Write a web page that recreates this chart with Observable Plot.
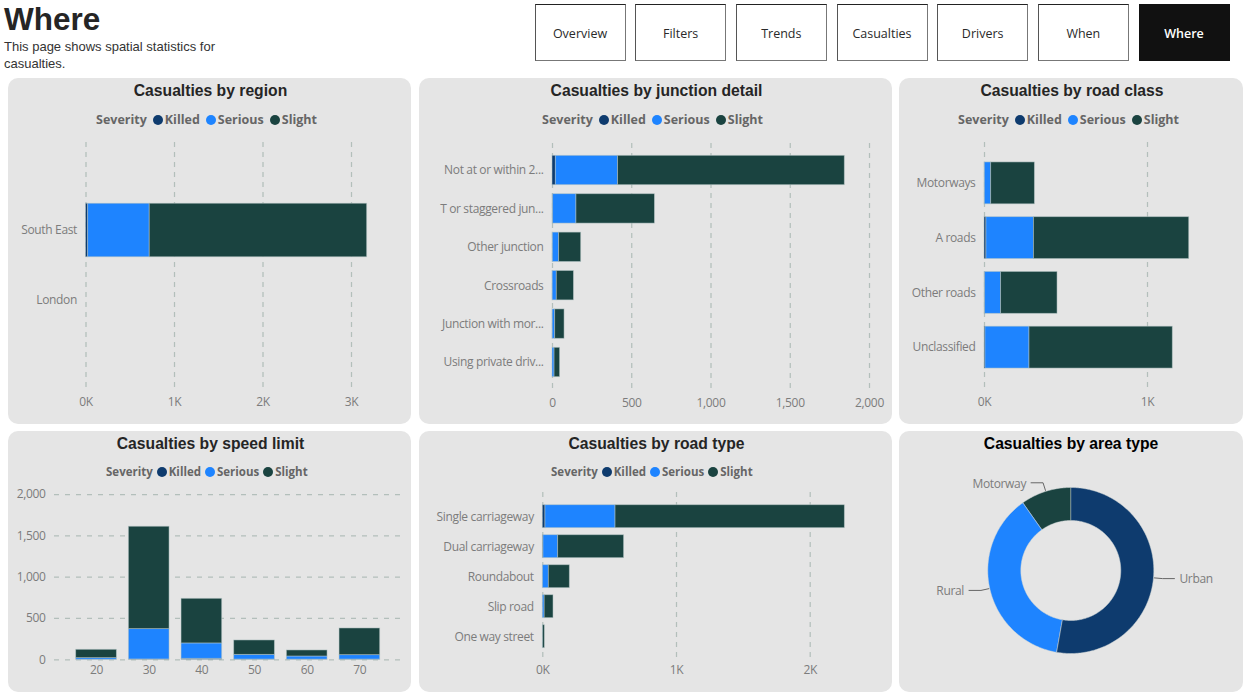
<!DOCTYPE html>
<html lang="en">
<head>
<meta charset="utf-8">
<title>Where</title>
<script src="https://cdn.jsdelivr.net/npm/d3@7"></script>
<script src="https://cdn.jsdelivr.net/npm/@observablehq/plot@0.6"></script>
<style>
  html, body { margin: 0; padding: 0; background: #fff; overflow: hidden; }
  #page { position: relative; width: 1243px; height: 695px; overflow: hidden; }
  h1 { position: absolute; left: 4px; top: 0; margin: 0; font: bold 31.5px/38px "Liberation Sans", Arial, sans-serif; color: #252525; }
  #sub { position: absolute; left: 4px; top: 38px; width: 240px; font: 13px/17px "Liberation Sans", Arial, sans-serif; color: #333; }
  .btn { position: absolute; top: 4px; width: 89px; height: 55px; text-align: center;
         border: 1px solid #777; border-top-color: #222; border-left-color: #555; background: #fff;
         font: 12.5px/57px "Open Sans", sans-serif; color: #2a2a2a; }
  .btn.active { background: #111; color: #fff; border-color: #111; font-weight: 600; }
  .panel { position: absolute; background: #e5e5e5; border-radius: 10px; overflow: hidden; }
  .panel svg { position: absolute; left: 0; top: 0; background: transparent; }
  .title { position: absolute; left: 2px; right: 0; text-align: center; font: bold 15.7px/20px "Liberation Sans", Arial, sans-serif; color: #252525; z-index: 2; }
  .legend { position: absolute; display: flex; align-items: center; font-family: "Open Sans", sans-serif; font-weight: 700; color: #666; white-space: nowrap; z-index: 2; }
  .legend .dot { display: inline-block; border-radius: 50%; }
</style>
</head>
<body>
<div id="page">
  <h1>Where</h1>
  <div id="sub">This page shows spatial statistics for<br>casualties.</div>
</div>
<script>
const navLabels = ["Overview", "Filters", "Trends", "Casualties", "Drivers", "When", "Where"];
const severities = ["Killed", "Serious", "Slight"];
const severityColors = ["#0e3b6e", "#1e84ff", "#1a4340"];

const regionCats = ["South East", "London"];
const regionKilled = [25, 0];
const regionSerious = [695, 0];
const regionSlight = [2457, 0];

const junctionCats = ["Not at or within 2...", "T or staggered jun...", "Other junction", "Crossroads", "Junction with mor...", "Using private driv..."];
const junctionKilled = [21, 4, 2, 1, 1, 0];
const junctionSerious = [393, 147, 40, 26, 16, 13];
const junctionSlight = [1430, 495, 139, 108, 59, 35];

const classCats = ["Motorways", "A roads", "Other roads", "Unclassified"];
const classKilled = [2, 12, 4, 6];
const classSerious = [39, 291, 98, 270];
const classSlight = [268, 953, 346, 879];

const speedCats = ["20", "30", "40", "50", "60", "70"];
const speedKilled = [1, 4, 12, 3, 2, 3];
const speedSerious = [19, 367, 186, 57, 38, 53];
const speedSlight = [101, 1239, 540, 174, 73, 323];

const roadCats = ["Single carriageway", "Dual carriageway", "Roundabout", "Slip road", "One way street"];
const roadKilled = [20, 5, 1, 0, 0];
const roadSerious = [524, 110, 44, 14, 2];
const roadSlight = [1715, 493, 157, 66, 13];

const areaNames = ["Urban", "Rural", "Motorway"];
const areaValues = [1673, 1186, 309];
const areaColors = ["#0e3b6e", "#1e84ff", "#1a4340"];

const page = document.getElementById("page");
navLabels.forEach((label, i) => {
  const b = document.createElement("div");
  b.className = "btn" + (label === "Where" ? " active" : "");
  b.style.left = (534.5 + i * 100.67) + "px";
  b.textContent = label;
  page.appendChild(b);
});

const FONT = '"Open Sans", sans-serif';
const TICK = 12;
const colorScale = {domain: severities, range: severityColors};
const planeStyle = {fontFamily: FONT, fontSize: TICK + "px", letterSpacing: "-0.35px", color: "#7c7c7c", background: "transparent", overflow: "visible"};
const gridColor = "#b3bfbb";
const barStyle = {stroke: "#b5c4c4", strokeWidth: 0.8, strokeOpacity: 0.65};

function toRows(cats, killed, serious, slight) {
  const out = [];
  cats.forEach((c, i) => {
    [killed, serious, slight].forEach((arr, j) => {
      if (arr[i] > 0) out.push({cat: c, severity: severities[j], value: arr[i]});
    });
  });
  return out;
}

function makePanel(box, title, titleTop, legend) {
  const p = document.createElement("div");
  p.className = "panel";
  Object.assign(p.style, {left: box.x + "px", top: box.y + "px", width: box.w + "px", height: box.h + "px"});
  const t = document.createElement("div");
  t.className = "title";
  t.style.top = titleTop + "px";
  t.textContent = title;
  if (box.titleColor) { t.style.color = box.titleColor; t.style.left = "0"; }
  p.appendChild(t);
  if (legend) {
    const l = document.createElement("div");
    l.className = "legend";
    l.style.left = legend.x + "px";
    l.style.top = legend.y + "px";
    l.style.fontSize = legend.size + "px";
    const s = document.createElement("span");
    s.textContent = "Severity";
    s.style.marginRight = legend.lead + "px";
    l.appendChild(s);
    severities.forEach((name, i) => {
      const d = document.createElement("span");
      d.className = "dot";
      d.style.width = d.style.height = legend.dot + "px";
      d.style.margin = "0 2px 0 " + legend.gap + "px";
      d.style.background = severityColors[i];
      l.appendChild(d);
      const n = document.createElement("span");
      n.textContent = name;
      l.appendChild(n);
    });
    p.appendChild(l);
  }
  page.appendChild(p);
  return p;
}

function hBars(box, title, legend, cfg) {
  const p = makePanel(box, title, 3, legend);
  const rows = toRows(cfg.cats, cfg.killed, cfg.serious, cfg.slight);
  p.appendChild(Plot.plot({
    width: box.w, height: box.h,
    marginLeft: cfg.x0, marginRight: box.w - cfg.x1 - 1,
    marginTop: cfg.gridTop, marginBottom: box.h - cfg.gridBottom,
    style: planeStyle,
    x: {domain: cfg.xDomain, range: [cfg.x0, cfg.x1]},
    y: {domain: cfg.cats, range: cfg.yRange, paddingInner: 0.235, paddingOuter: 0.1175, align: 0.5, round: false},
    color: colorScale,
    marks: [
      Plot.ruleX(cfg.xTicks, {stroke: gridColor, strokeWidth: 1.25, strokeDasharray: "5 5"}),
      Plot.barX(rows, {x: "value", y: "cat", fill: "severity", ...barStyle}),
      Plot.axisX({anchor: "bottom", ticks: cfg.xTicks, tickSize: 0, tickPadding: 5, tickFormat: cfg.fmt, label: null, fontSize: TICK}),
      Plot.axisY({anchor: "left", tickSize: 0, tickPadding: 9, label: null, fontSize: TICK})
    ]
  }));
}

const kFormat = d => (d / 1000) + "K";
const topLegend = {y: 33, size: 12.5, dot: 10, lead: 0, gap: 6};
const lowLegend = {y: 33, size: 11.5, dot: 10, lead: 0, gap: 4};

hBars({x: 8, y: 78, w: 403, h: 346}, "Casualties by region", {...topLegend, x: 88}, {
  cats: regionCats, killed: regionKilled, serious: regionSerious, slight: regionSlight,
  x0: 77.5, x1: 343, xDomain: [0, 3000], xTicks: [0, 1000, 2000, 3000], fmt: kFormat,
  gridTop: 64, gridBottom: 314, yRange: [117, 257]
});

hBars({x: 419, y: 78, w: 473, h: 346}, "Casualties by junction detail", {...topLegend, x: 123}, {
  cats: junctionCats, killed: junctionKilled, serious: junctionSerious, slight: junctionSlight,
  x0: 133, x1: 450, xDomain: [0, 2000], xTicks: [0, 500, 1000, 1500, 2000], fmt: d3.format(","),
  gridTop: 65, gridBottom: 315, yRange: [72.8, 303.2]
});

hBars({x: 899, y: 78, w: 344, h: 346}, "Casualties by road class", {...topLegend, x: 59}, {
  cats: classCats, killed: classKilled, serious: classSerious, slight: classSlight,
  x0: 85, x1: 248, xDomain: [0, 1000], xTicks: [0, 1000], fmt: kFormat,
  gridTop: 64, gridBottom: 314, yRange: [77.5, 296.5]
});

// Speed limit: vertical stacked bars
(function () {
  const box = {x: 8, y: 431, w: 403, h: 261};
  const p = makePanel(box, "Casualties by speed limit", 3, {...lowLegend, x: 98});
  const rows = toRows(speedCats, speedKilled, speedSerious, speedSlight);
  p.appendChild(Plot.plot({
    width: box.w, height: box.h,
    marginLeft: 46, marginRight: 9.3, marginTop: 63, marginBottom: 32.7,
    style: planeStyle,
    x: {domain: speedCats, range: [61.7, 377.7], paddingInner: 0.228, paddingOuter: 0.114, align: 0.5, round: false},
    y: {domain: [0, 2000], range: [228.3, 63]},
    color: colorScale,
    marks: [
      Plot.ruleY([0, 500, 1000, 1500, 2000], {stroke: gridColor, strokeWidth: 1.25, strokeDasharray: "5 6"}),
      Plot.barY(rows, {x: "cat", y: "value", fill: "severity", ...barStyle}),
      Plot.axisX({anchor: "bottom", tickSize: 0, tickPadding: 6, label: null, fontSize: TICK}),
      Plot.axisY({anchor: "left", ticks: [0, 500, 1000, 1500, 2000], tickSize: 0, tickPadding: 9, tickFormat: d3.format(","), label: null, fontSize: TICK})
    ]
  }));
})();

hBars({x: 419, y: 431, w: 473, h: 261}, "Casualties by road type", {...lowLegend, x: 132}, {
  cats: roadCats, killed: roadKilled, serious: roadSerious, slight: roadSlight,
  x0: 123.3, x1: 390.7, xDomain: [0, 2000], xTicks: [0, 1000, 2000], fmt: kFormat,
  gridTop: 61, gridBottom: 229, yRange: [70.2, 220.2]
});

// Area type donut, slices built with d3.pie from areaValues
(function () {
  const box = {x: 899, y: 431, w: 344, h: 261, titleColor: "#000"};
  const p = makePanel(box, "Casualties by area type", 3, null);
  const outer = 83, inner = 50, elbow = 92, run = 12;
  const cx = 171.3, cy = 139;
  const arcs = d3.pie().sort(null)(areaValues);
  const polar = (r, a) => [r * Math.sin(a), -r * Math.cos(a)];
  const ring = [];
  arcs.forEach((arc, i) => {
    const n = Math.ceil((arc.endAngle - arc.startAngle) / (Math.PI / 180));
    const at = k => arc.startAngle + (arc.endAngle - arc.startAngle) * k / n;
    for (let k = 0; k <= n; k++) { const [x, y] = polar(outer, at(k)); ring.push({name: areaNames[i], x, y}); }
    for (let k = n; k >= 0; k--) { const [x, y] = polar(inner, at(k)); ring.push({name: areaNames[i], x, y}); }
  });
  const leaders = [], labels = [];
  arcs.forEach((arc, i) => {
    const mid = (arc.startAngle + arc.endAngle) / 2;
    const [x0, y0] = polar(outer + 1, mid);
    const [x1, y1] = polar(elbow, mid);
    const side = x1 >= 0 ? 1 : -1;
    leaders.push({name: areaNames[i], x: x0, y: y0}, {name: areaNames[i], x: x1, y: y1}, {name: areaNames[i], x: x1 + side * run, y: y1});
    labels.push({name: areaNames[i], x: x1 + side * run, y: y1, side});
  });
  p.appendChild(Plot.plot({
    width: box.w, height: box.h, margin: 0,
    style: planeStyle,
    x: {axis: null, domain: [-outer, outer], range: [cx - outer, cx + outer]},
    y: {axis: null, domain: [-outer, outer], range: [cy - outer, cy + outer]},
    color: {domain: areaNames, range: areaColors},
    marks: [
      Plot.line(ring, {x: "x", y: "y", z: "name", fill: "name", stroke: "#cfd6d6", strokeWidth: 0.5, curve: "linear-closed"}),
      Plot.line(leaders, {x: "x", y: "y", z: "name", stroke: "#666", strokeWidth: 1}),
      Plot.text(labels.filter(d => d.side > 0), {x: "x", y: "y", text: "name", textAnchor: "start", dx: 5, dy: 1, fill: "#7c7c7c", fontSize: TICK}),
      Plot.text(labels.filter(d => d.side < 0), {x: "x", y: "y", text: "name", textAnchor: "end", dx: -5, dy: 1, fill: "#7c7c7c", fontSize: TICK})
    ]
  }));
})();
</script>
</body>
</html>
